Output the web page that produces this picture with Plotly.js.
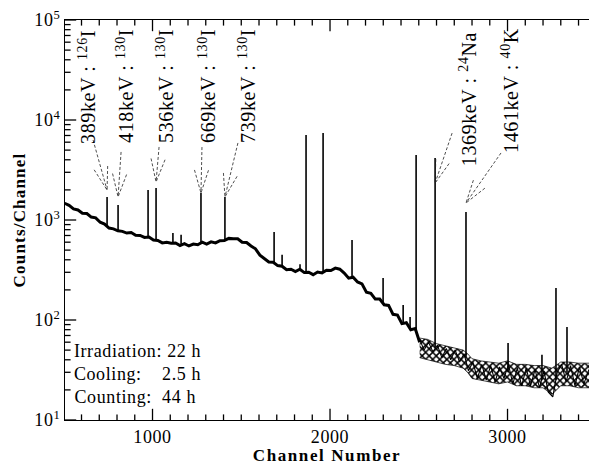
<!DOCTYPE html>
<html><head><meta charset="utf-8">
<script src="https://cdn.plot.ly/plotly-3.0.1.min.js"></script>
<style>
html,body{margin:0;padding:0;background:#fff;}
#chart{width:589px;height:465px;}
#chart svg text{letter-spacing:0.6px;}
#chart svg .g-xtitle text{letter-spacing:1.6px;}
#chart svg .g-ytitle text{letter-spacing:1.2px;}
</style></head><body><div id="chart"></div>
<script>
// Continuum (left, thick trace), channels and counts
const contChannel = [505,530,555,580,605,630,655,680,705,730,755,780,805,830,855,880,905,930,955,980,1005,1030,1055,1080,1105,1130,1155,1180,1205,1230,1255,1280,1305,1330,1355,1380,1405,1430,1455,1480,1505,1530,1555,1580,1605,1630,1655,1680,1705,1730,1755,1780,1805,1830,1855,1880,1905,1930,1955,1980,2005,2030,2055,2080,2105,2130,2155,2180,2205,2230,2255,2280,2305,2330,2355,2380,2405,2430,2455,2480,2505];
const contCounts = [1470,1400,1290,1260,1170,1160,1070,1050,950,910,830,815,780,770,740,750,705,700,670,675,630,625,590,600,585,590,555,580,550,575,565,600,575,605,590,620,625,655,650,650,600,595,550,515,445,415,380,378,350,345,318,322,305,322,298,300,284,302,296,315,312,330,322,295,262,268,240,230,190,185,162,162,142,140,114,112,92,94,80,82,60];
// Noisy high-channel tail
const tailChannel = [2505,2530,2555,2580,2605,2630,2655,2680,2705,2730,2755,2780,2805,2830,2855,2880,2905,2930,2955,2980,3005,3030,3055,3080,3105,3130,3155,3180,3205,3230,3255,3280,3305,3330,3355,3380,3405,3430,3459];
const tailCounts = [64,50,60,48,56,42,52,40,50,38,46,31,38,26,36,25,35,24,34,26,36,23,33,22,33,22,32,21,31,19,17,30,36,24,35,22,34,23,32];
// Scatter band of the tail (upper / lower edge)
const bandChannel = [2505,2550,2600,2650,2700,2750,2775,2800,2850,2900,2950,3000,3050,3100,3150,3200,3250,3300,3350,3400,3459];
const bandHigh = [66,64,58,55,53,50,46,41,39,38,37,39,36,36,35,35,33,38,38,37,37];
const bandLow = [42,40,38,36,35,33,30,26,25,24,23,24,22,22,21,21,18,22,22,21,21];
// Peaks: channel, top, base
const peakChannel = [744,806,975,1020,1115,1161,1273,1408,1685,1730,1831,1865,1961,2124,2299,2412,2451,2485,2592,2766,3003,3194,3273,3335];
const peakTop =     [1700,1410,2000,2090,740,710,1860,1700,760,450,360,7080,7410,630,263,141,107,4470,4170,1200,59,45,209,85];
const peakBase =    [850,780,665,620,590,565,590,630,372,340,318,300,300,262,148,95,85,78,53,42,30,25,25,30];
// Labelled lines
const labelPeakChannel = [744,806,1020,1273,1408,2592,2766];
const labelText = ['389keV : <sup>126</sup>I','418keV : <sup>130</sup>I','536keV : <sup>130</sup>I','669keV : <sup>130</sup>I','739keV : <sup>130</sup>I','1369keV : <sup>24</sup>Na','1461keV : <sup>40</sup>K'];
const insetText = ['Irradiation: 22 h','Cooling:\u00a0\u00a0\u00a0\u00a02.5 h','Counting:\u00a0 44 h'];
const yTickVals = [10,100,1000,10000,100000];
const yTickText = ['10<sup>1</sup>','10<sup>2</sup>','10<sup>3</sup>','10<sup>4</sup>','10<sup>5</sup>'];
const xTickVals = [1000,2000,3000];
const xTickText = ['1000','2000','3000'];

const serif = 'Liberation Serif, Times New Roman, serif';
const xRange = [507, 3459];
const yRange = [1, 5];

// minor tick positions (axis structure)
const yMinor = [];
for (let d = 1; d < 5; d++) for (let k = 2; k <= 9; k++) yMinor.push(k * Math.pow(10, d));
const xMinor = [];
for (let c = 600; c <= 3400; c += 100) if (c % 1000) xMinor.push(c);

const traces = [
  {x: bandChannel, y: bandLow, mode:'lines', line:{color:'#000', width:0.7}, hoverinfo:'skip', showlegend:false},
  {x: bandChannel, y: bandHigh, mode:'lines', fill:'tonexty', fillcolor:'#fff',
   fillpattern:{shape:'x', fgcolor:'#000', bgcolor:'#fff', size:5, solidity:0.5},
   line:{color:'#000', width:0.7}, hoverinfo:'skip', showlegend:false},
  {x: contChannel, y: contCounts, mode:'lines', line:{color:'#000', width:3.0}, showlegend:false},
  {x: tailChannel, y: tailCounts, mode:'lines', line:{color:'#000', width:1.1}, showlegend:false},
  {x: peakChannel.flatMap(c => [c, c, null]),
   y: peakChannel.flatMap((c, i) => [peakBase[i], peakTop[i], null]),
   mode:'lines', line:{color:'#000', width:1.6}, showlegend:false}
];

// tick marks as clipped line markers sitting on the axis edges (only the inner half shows)
function tickTrace(xs, ys, symbol, size) {
  return {x: xs, y: ys, mode:'markers', cliponaxis:true, hoverinfo:'skip', showlegend:false,
          marker:{symbol: symbol, size: size, color:'#000', line:{color:'#000', width:1.3}}};
}
const bottomY = Math.pow(10, yRange[0]), topY = Math.pow(10, yRange[1]);
traces.push(tickTrace(xMinor, xMinor.map(() => bottomY), 'line-ns', 8));
traces.push(tickTrace(xMinor, xMinor.map(() => topY), 'line-ns', 8));
traces.push(tickTrace(xTickVals, xTickVals.map(() => bottomY), 'line-ns', 16));
traces.push(tickTrace(xTickVals, xTickVals.map(() => topY), 'line-ns', 16));
traces.push(tickTrace(yMinor.map(() => xRange[0]), yMinor, 'line-ew', 8));
traces.push(tickTrace(yTickVals.map(() => xRange[0]), yTickVals, 'line-ew', 16));

// arrow layout (pixel offsets of arrow tails relative to tip, tip heights)
const arrowTip = [1995, 1700, 2400, 1860, 1700, 2340, 1480];
const arrowTail = [[-14,50],[3,45],[3,35],[1,46],[13,54],[17,50],[35,50]];
const shapes = labelPeakChannel.map((c, i) => {
  const [tx, ty] = arrowTail[i];
  const L = Math.hypot(tx, ty), ux = tx / L, uy = ty / L;
  const a = 17 * Math.PI / 180, len = 24;
  const r = (s) => [len * (ux * Math.cos(s) - uy * Math.sin(s)), len * (ux * Math.sin(s) + uy * Math.cos(s))];
  const p1 = r(a), p2 = r(-a);
  return {
    type:'path', xref:'x', yref:'y', xsizemode:'pixel', ysizemode:'pixel',
    xanchor: c, yanchor: arrowTip[i],
    path: `M${tx},${ty}L0,0M${p1[0].toFixed(1)},${p1[1].toFixed(1)}L0,0L${p2[0].toFixed(1)},${p2[1].toFixed(1)}`,
    line:{color:'#222', width:0.8, dash:'3px,2px'}
  };
});

// label centres in pixels -> paper coordinates
const labelPos = [[87,87],[125,86],[165,86],[207,86],[247,86],[468,99],[510,90]];
const annotations = labelText.map((t, i) => ({
  text: t, xref:'paper', yref:'paper',
  x: (labelPos[i][0] - 65) / 524, y: (420 - labelPos[i][1]) / 400,
  xanchor:'center', yanchor:'middle', textangle:-90, showarrow:false,
  font:{family: serif, size:20, color:'#000'}
}));
const insetY = [351, 374, 397];
insetText.forEach((t, i) => annotations.push({
  text: t, xref:'paper', yref:'paper', x:(77 - 65) / 524, y:(420 - insetY[i]) / 400,
  xanchor:'left', yanchor:'middle', showarrow:false,
  font:{family: serif, size:18, color:'#000'}
}));

const layout = {
  width:589, height:465,
  margin:{l:65, r:0, t:20, b:45},
  paper_bgcolor:'#fff', plot_bgcolor:'#fff',
  showlegend:false,
  xaxis:{
    range:xRange, showgrid:false, zeroline:false,
    showline:true, linecolor:'#000', linewidth:1, mirror:true,
    tickmode:'array', tickvals:xTickVals, ticktext:xTickText, ticks:'',
    tickfont:{family: serif, size:18, color:'#000'},
    title:{text:'Channel Number', font:{family: serif, size:17, color:'#000', weight:'bold'}, standoff:4}
  },
  yaxis:{
    type:'log', range:yRange, showgrid:false, zeroline:false,
    showline:true, linecolor:'#000', linewidth:1, mirror:false,
    tickmode:'array', tickvals:yTickVals, ticktext:yTickText, ticks:'',
    tickfont:{family: serif, size:18, color:'#000'},
    title:{text:'Counts/Channel', font:{family: serif, size:17, color:'#000', weight:'bold'}, standoff:6}
  },
  shapes: shapes,
  annotations: annotations
};

Plotly.newPlot('chart', traces, layout, {staticPlot:true, displayModeBar:false});
</script></body></html>
